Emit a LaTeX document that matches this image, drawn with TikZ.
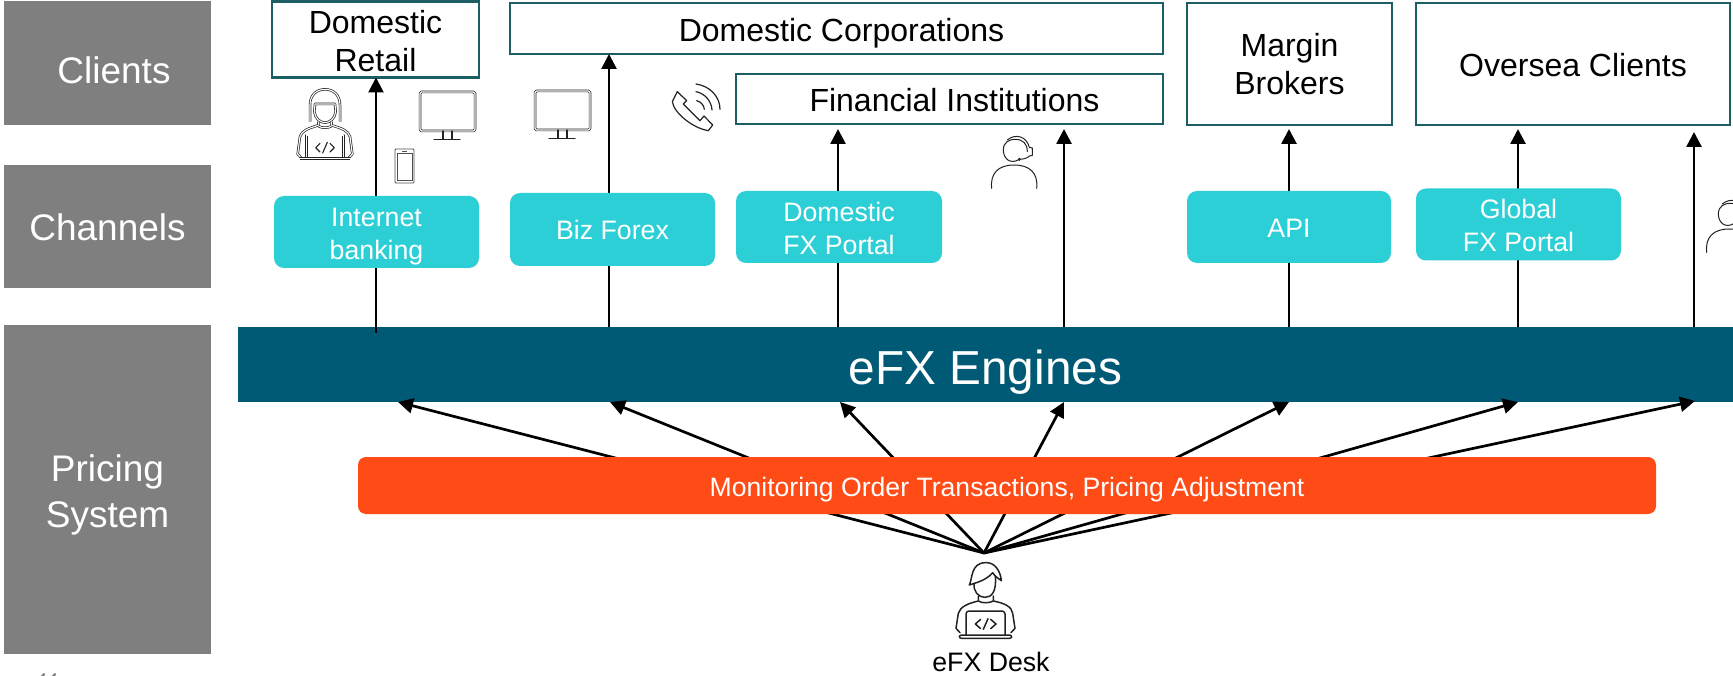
\documentclass[tikz,border=0pt]{standalone}
\usepackage{fontspec}
\setmainfont{Liberation Sans}
\usetikzlibrary{arrows.meta}
\definecolor{grayband}{HTML}{7F7F7F}
\definecolor{tealedge}{HTML}{1B5E63}
\definecolor{cyanbox}{HTML}{2DCFD6}
\definecolor{engine}{HTML}{005A75}
\definecolor{orangebar}{HTML}{FF4B16}
\definecolor{iconline}{HTML}{222222}
% lower a text inside its node without changing the node's centre
\newcommand\dn[2]{\raisebox{-#1}[\height][\depth]{\begin{tabular}{@{}c@{}}#2\end{tabular}}}
\tikzset{
  x=1pt,y=-1pt,
  band/.style={fill=grayband,draw=none,text=white,align=center,inner sep=0pt,outer sep=0pt,font=\fontsize{37}{46}\selectfont},
  clientbox/.style={draw=tealedge,fill=white,line width=2.6pt,align=center,inner sep=0pt,outer sep=0pt,font=\fontsize{32}{38}\selectfont},
  channelbox/.style={fill=cyanbox,draw=none,rounded corners=10pt,text=white,align=center,inner sep=0pt,outer sep=0pt,font=\fontsize{26.7}{33}\selectfont},
  feed/.style={draw=black,line width=2.7pt,-{Triangle[length=15pt,width=15pt]}},
  ic/.style={draw=iconline,line width=1.5pt,line join=round,line cap=round},
  icd/.style={draw=iconline,line width=.7pt,double=white,double distance=1.1pt,line join=round},
  monitoricon/.pic={
    \draw[icd,rounded corners=1.5pt] (0,0) rectangle (55,39);
    \draw[ic,line width=1.1pt] (23,39) -- (23,47) (32,39) -- (32,47) (14,47.5) -- (40,47.5);
  },
  agenticon/.pic={
    \draw[ic,line width=1pt] (65,205) .. controls (60,160) and (85,135) .. (132,135) .. controls (180,135) and (205,160) .. (200,205);
    \draw[ic,line width=1pt] (148,118) .. controls (120,135) and (100,115) .. (100,90) .. controls (100,65) and (120,58) .. (135,58) .. controls (160,58) and (172,72) .. (172,95);
    \draw[ic,line width=1pt] (112,60) .. controls (135,40) and (170,48) .. (178,82) -- (187,84) -- (187,106) -- (178,108) .. controls (176,112) and (165,117) .. (150,118);
    \fill[iconline] (148,118) circle (5);
  },
  deskicon/.pic={
    \draw[ic] (118,105) .. controls (128,85) and (122,40) .. (165,38) .. controls (195,35) and (212,65) .. (214,92) .. controls (205,85) and (195,80) .. (188,68) .. controls (170,90) and (140,98) .. (118,105);
    \draw[ic] (132,100) .. controls (130,125) and (145,142) .. (165,142) .. controls (185,142) and (200,125) .. (196,78);
    \draw[ic] (145,138) -- (145,153) .. controls (155,160) and (178,160) .. (190,153) -- (190,138);
    \draw[ic] (145,153) .. controls (115,160) and (90,170) .. (85,190) -- (78,235) -- (90,248);
    \draw[ic] (190,153) .. controls (225,160) and (245,170) .. (248,190) -- (255,235) -- (243,248);
    \draw[ic,rounded corners=3pt] (108,255) -- (108,183) -- (225,183) -- (225,255);
    \draw[ic,rounded corners=2pt] (88,255) -- (245,255) -- (245,265) -- (88,265) -- cycle;
    \draw[ic] (152,208) -- (136,222) -- (152,236) (182,208) -- (198,222) -- (182,236) (174,206) -- (160,238);
  },
  codericon/.pic={
    \draw[icd] (75,125) -- (75,75) .. controls (75,45) and (95,28) .. (120,28) .. controls (145,28) and (165,45) .. (165,75) -- (165,125);
    \draw[icd] (90,72) -- (150,72) -- (152,95) .. controls (150,115) and (135,128) .. (120,128) .. controls (105,128) and (90,115) .. (88,95) -- cycle;
    \draw[icd] (100,125) -- (100,138) .. controls (110,145) and (130,145) .. (140,138) -- (140,125);
    \draw[icd] (100,136) .. controls (70,145) and (50,152) .. (45,170) -- (38,222) -- (50,235);
    \draw[icd] (140,136) .. controls (170,145) and (190,152) .. (195,170) -- (202,222) -- (190,235);
    \draw[icd] (65,235) -- (65,165) -- (175,165) -- (175,235);
    \draw[icd] (45,235) -- (195,235);
    \draw[ic,line width=1.1pt] (105,190) -- (92,203) -- (105,216) (135,190) -- (148,203) -- (135,216) (127,187) -- (113,219);
  },
}
\begin{document}
\begin{tikzpicture}
\useasboundingbox (0,0) rectangle (1733,676);
\clip (0,0) rectangle (1733,676);

% left bands
\node[band,minimum width=207.5,minimum height=124] (clients) at (107.5,63) {\hspace*{13pt}\dn{11pt}{Clients}};
\node[band,minimum width=207.5,minimum height=123] (channels) at (107.5,227) {\dn{4.3pt}{Channels}};
\node[band,minimum width=207.5,minimum height=329] (pricing) at (107.5,489.5) {\dn{5.5pt}{Pricing\\System}};

% client boxes
\node[clientbox,minimum width=207,minimum height=74] (retail) at (375.5,39.5) {\dn{5.5pt}{Domestic\\Retail}};
\node[clientbox,minimum width=653,minimum height=51] (corp) at (836.5,28.5) {\hspace*{10pt}\dn{5pt}{Domestic Corporations}};
\node[clientbox,minimum width=427,minimum height=50] (fin) at (949.5,99) {\hspace*{10pt}\dn{5.3pt}{Financial Institutions}};
\node[clientbox,minimum width=205,minimum height=122] (margin) at (1289.5,64) {\dn{4.3pt}{Margin\\Brokers}};
\node[clientbox,minimum width=314,minimum height=122] (oversea) at (1573,64) {\dn{5.4pt}{Oversea Clients}};

% engine bar
\node[fill=engine,text=white,inner sep=0pt,outer sep=0pt,minimum width=1495,minimum height=75,font=\fontsize{47.7}{56}\selectfont] (engines) at (985.5,364.5) {\dn{9pt}{eFX Engines}};

% up connectors
\coordinate (u1) at (376,333);
\coordinate (u2) at (609,327);
\coordinate (u3) at (838,327);
\coordinate (u4) at (1064,327);
\coordinate (u5) at (1289,327);
\coordinate (u6) at (1518,327);
\coordinate (u7) at (1694,327);
\draw[feed] (u1) -- (u1 |- retail.south);
\draw[feed] (u2) -- (u2 |- corp.south);
\draw[feed,shorten >=5pt] (u3) -- (u3 |- fin.south);
\draw[feed,shorten >=5pt] (u4) -- (u4 |- fin.south);
\draw[feed,shorten >=4pt] (u5) -- (u5 |- margin.south);
\draw[feed,shorten >=4pt] (u6) -- (u6 |- oversea.south);
\draw[feed,shorten >=7pt] (u7) -- (u7 |- oversea.south);

% channels
\node[channelbox,minimum width=205,minimum height=72] (ib) at (376.5,232) {\dn{4pt}{Internet\\banking}};
\node[channelbox,minimum width=205,minimum height=73] (biz) at (612.5,229.5) {\dn{3pt}{Biz Forex}};
\node[channelbox,minimum width=206,minimum height=72] (dfx) at (839,227) {\dn{4pt}{Domestic\\FX Portal}};
\node[channelbox,minimum width=204,minimum height=72] (api) at (1289,227) {\dn{4pt}{API}};
\node[channelbox,minimum width=205,minimum height=72] (gfx) at (1518.5,224.5) {\dn{3.5pt}{Global\\FX Portal}};

% diagonal connectors
\coordinate (src) at (984,553);
\coordinate (d1) at (398,402);
\coordinate (d2) at (610,402);
\coordinate (d3) at (840,402);
\coordinate (d4) at (1064,402);
\coordinate (d5) at (1289,402);
\coordinate (d6) at (1518,402);
\coordinate (d7) at (1695,401);
\foreach \d in {d1,d2,d3,d4,d5,d6,d7} \draw[feed] (src) -- (\d);

% orange bar
\node[fill=orangebar,rounded corners=8pt,text=white,inner sep=0pt,outer sep=0pt,minimum width=1298,minimum height=57,font=\fontsize{26.6}{32}\selectfont] (monitor) at (1007,485.5) {\dn{5pt}{Monitoring Order Transactions, Pricing Adjustment}};

% desk label
\node[inner sep=0pt,font=\fontsize{26.7}{32}\selectfont] (desk) at (991,662) {eFX Desk};

% icons
\pic[scale=1/3] at (930,550) {deskicon};
\pic[scale=1/3] at (285,80) {codericon};
\pic at (420,92) {monitoricon};
\pic at (535,91) {monitoricon};
\pic[scale=1/3] at (970,120) {agenticon};
\pic[scale=1/3] at (1685,184) {agenticon};
% mobile
\draw[draw=iconline!80,line width=.9pt,rounded corners=1pt] (395,149) rectangle (414,183);
\draw[draw=iconline!80,line width=.7pt] (397,153) -- (412,153) -- (412,180) -- (397,180) -- cycle (402,151) -- (407,151);
% handset
\begin{scope}[shift={(470,60)},scale=1/3]
\draw[ic,line width=1.2pt] (622,95) -- (650,122) -- (640,132) -- (690,182) -- (702,168) -- (728,195) -- (715,212) .. controls (670,205) and (612,160) .. (607,125) -- cycle;
\draw[ic,line width=1.2pt] (678,72) .. controls (720,78) and (750,110) .. (750,148);
\draw[ic,line width=1.2pt] (678,95) .. controls (705,100) and (725,125) .. (726,150);
\draw[ic,line width=1.2pt] (680,122) .. controls (692,125) and (702,135) .. (703,148);
\end{scope}

% clipped page number
\node[text=gray,inner sep=0pt,anchor=north,font=\fontsize{20}{24}\selectfont\itshape] (pageno) at (46,673.5) {44};
\end{tikzpicture}
\end{document}
